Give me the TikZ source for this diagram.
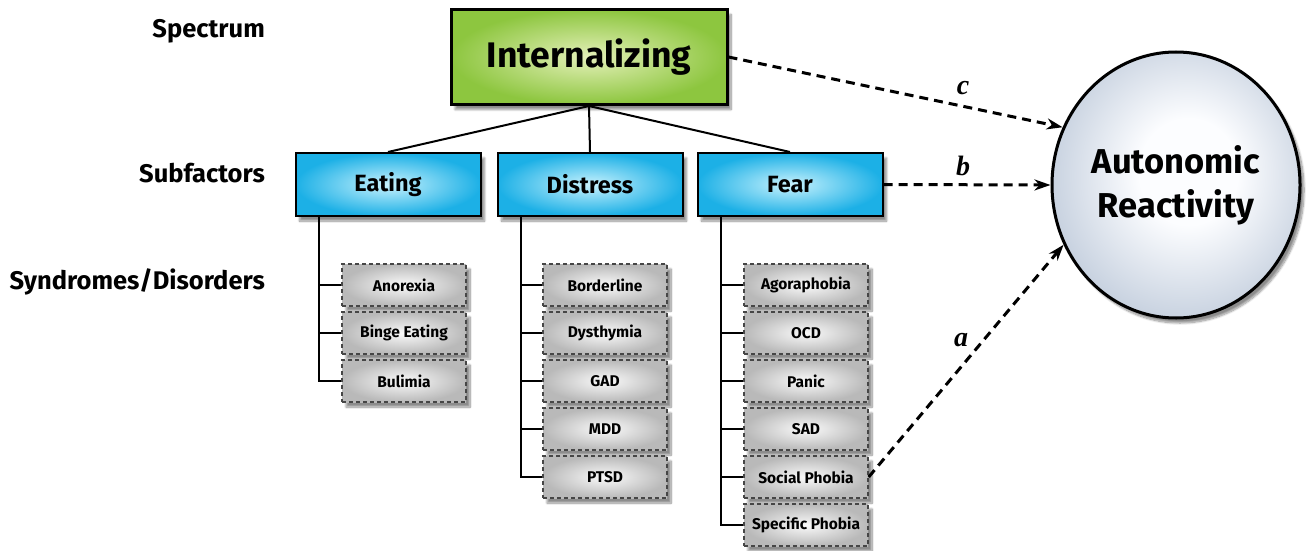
\documentclass[tikz,border=0pt]{standalone}
\usepackage{fontspec}
\setmainfont{Fira Sans}
\newfontfamily\letterfont{Liberation Serif}
\usetikzlibrary{arrows.meta,shapes.geometric,shadows.blur}
\definecolor{greenout}{RGB}{141,198,63}
\definecolor{greenin}{RGB}{228,240,185}
\definecolor{blueout}{RGB}{28,176,230}
\definecolor{bluein}{RGB}{200,242,253}
\definecolor{grayout}{RGB}{185,185,185}
\definecolor{grayin}{RGB}{250,250,250}
\definecolor{ballout}{RGB}{148,166,188}
\definecolor{ballmid}{RGB}{200,210,224}
\definecolor{ballin}{RGB}{252,253,255}
\definecolor{dashgray}{RGB}{70,70,70}
\pgfdeclareradialshading{ballshade}{\pgfpoint{3bp}{3bp}}{color(0bp)=(ballin); color(10bp)=(ballin); color(27bp)=(ballmid); color(39bp)=(ballout); color(60bp)=(ballout)}
\begin{document}
\begin{tikzpicture}[x=1pt,y=-1pt,
  shadowed/.style={blur shadow={shadow xshift=4pt,shadow yshift=-5pt,shadow blur steps=10,shadow opacity=45}},
  spectrumbox/.style={draw=black,line width=3pt,inner sep=0pt,minimum width=276pt,minimum height=95pt,
    shading=radial,inner color=greenin,outer color=greenout,font=\bfseries\fontsize{35.5}{40}\selectfont,shadowed},
  subbox/.style={draw=black,line width=2pt,inner sep=0pt,minimum width=185pt,minimum height=63pt,
    shading=radial,inner color=bluein,outer color=blueout,font=\bfseries\fontsize{23.5}{28}\selectfont,shadowed},
  synbox/.style={draw=dashgray,line width=1.4pt,dash pattern=on 4pt off 3pt,inner sep=0pt,minimum width=124pt,minimum height=42pt,
    shading=radial,inner color=grayin,outer color=grayout,font=\bfseries\fontsize{15.5}{18}\selectfont,shadowed},
  levellabel/.style={anchor=east,inner sep=0pt,font=\bfseries\fontsize{25.5}{30}\selectfont},
  treeline/.style={draw=black,line width=2pt},
  effect/.style={draw=black,line width=3pt,dash pattern=on 9pt off 6pt,-{Stealth[length=16pt,width=11pt,inset=5pt]}},
  pathlabel/.style={font=\letterfont\itshape\bfseries\fontsize{28}{30}\selectfont,inner sep=0pt}
]
\useasboundingbox (0,0) rectangle (1314,551);

% level labels
\node[levellabel] (lspec) at (265,31) {Spectrum};
\node[levellabel] (lsub) at (265,173) {Subfactors};
\node[levellabel] (lsyn) at (265,282) {Syndromes/Disorders};

% spectrum
\node[spectrumbox] (internal) at (589,57) {Internalizing};

% subfactors
\node[subbox] (eating) at (388,184.5) {Eating};
\node[subbox] (distress) at (590,184.5) {Distress};
\node[subbox] (fear) at (790,184.5) {Fear};

% syndromes
\node[synbox] (anorexia) at (404,285) {Anorexia};
\node[synbox] (binge) at (404,333) {Binge Eating};
\node[synbox] (bulimia) at (404,381) {Bulimia};

\node[synbox] (borderline) at (605,285) {Borderline};
\node[synbox] (dysthymia) at (605,333) {Dysthymia};
\node[synbox] (gad) at (605,381) {GAD};
\node[synbox] (mdd) at (605,429) {MDD};
\node[synbox] (ptsd) at (605,477) {PTSD};

\node[synbox] (agora) at (806,285) {Agoraphobia};
\node[synbox] (ocd) at (806,333) {OCD};
\node[synbox] (panic) at (806,381) {Panic};
\node[synbox] (sad) at (806,429) {SAD};
\node[synbox] (social) at (806,477) {Social Phobia};
\node[synbox] (specific) at (806,525) {Specific Phobia};

% autonomic reactivity
\node[ellipse,draw=black,line width=3pt,minimum width=248pt,minimum height=266pt,inner sep=0pt,
  shading=ballshade,align=center,
  font=\bfseries\fontsize{34.5}{44}\selectfont,shadowed] (ar) at (1176,185) {Autonomic\\Reactivity};

% tree lines
\draw[treeline] (internal.south) -- (eating.north);
\draw[treeline] (internal.south) -- (distress.north);
\draw[treeline] (internal.south) -- (fear.north);

\coordinate (tE) at ([xshift=24pt]eating.south west);
\coordinate (tD) at ([xshift=24pt]distress.south west);
\coordinate (tF) at ([xshift=24pt]fear.south west);

\draw[treeline] (tE) |- (bulimia.west);
\draw[treeline] (tE |- anorexia.west) -- (anorexia.west);
\draw[treeline] (tE |- binge.west) -- (binge.west);

\draw[treeline] (tD) |- (ptsd.west);
\draw[treeline] (tD |- borderline.west) -- (borderline.west);
\draw[treeline] (tD |- dysthymia.west) -- (dysthymia.west);
\draw[treeline] (tD |- gad.west) -- (gad.west);
\draw[treeline] (tD |- mdd.west) -- (mdd.west);

\draw[treeline] (tF) |- (specific.west);
\draw[treeline] (tF |- agora.west) -- (agora.west);
\draw[treeline] (tF |- ocd.west) -- (ocd.west);
\draw[treeline] (tF |- panic.west) -- (panic.west);
\draw[treeline] (tF |- sad.west) -- (sad.west);
\draw[treeline] (tF |- social.west) -- (social.west);

% effects
\draw[effect] (internal.east) -- (ar.153);
\draw[effect] (fear.east) -- (ar.180);
\draw[effect] (social.east) -- (ar.208);

\node[pathlabel] (lc) at (963,88) {c};
\node[pathlabel] (lb) at (963,166) {b};
\node[pathlabel] (la) at (961,340) {a};
\end{tikzpicture}
\end{document}
